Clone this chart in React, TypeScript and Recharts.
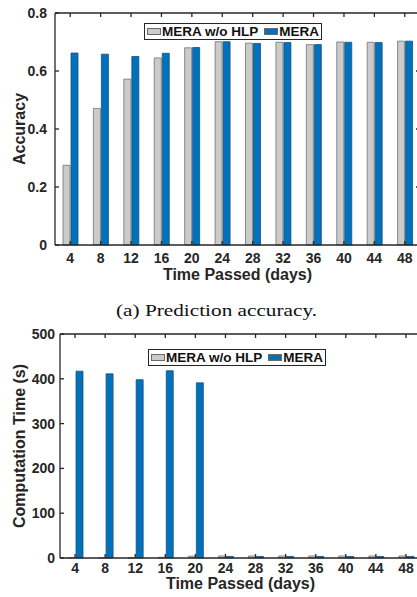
import React from 'react'
import { BarChart, Bar, XAxis, YAxis, Legend, ReferenceLine } from 'recharts'

// days on the x axis
const days = ['4', '8', '12', '16', '20', '24', '28', '32', '36', '40', '44', '48']

// (a) prediction accuracy
const accNoHlp = [0.275, 0.471, 0.572, 0.645, 0.68, 0.701, 0.696, 0.699, 0.691, 0.7, 0.699, 0.703]
const accMera = [0.662, 0.658, 0.65, 0.661, 0.681, 0.701, 0.695, 0.698, 0.691, 0.699, 0.698, 0.703]
const accTicks = [0, 0.2, 0.4, 0.6, 0.8]

// (b) computation time, seconds
const timeNoHlp = [0.5, 0.5, 0.5, 1.5, 4, 4.5, 4.5, 4.5, 4.5, 4.5, 4.5, 4.5]
const timeMera = [417, 411, 398, 418, 391, 3.5, 3.5, 3.5, 3.5, 3.5, 3.5, 3.5]
const timeTicks = [0, 100, 200, 300, 400, 500]

const FONT = '"Liberation Sans", Arial, Helvetica, sans-serif'
const AXIS = '#262626'
const GREY = '#cbcbcb'
const BLUE = '#0072bd'
const seriesOrder = ['noHlp', 'mera']

const accData = days.map((d, i) => ({ day: d, noHlp: accNoHlp[i], mera: accMera[i] }))
const timeData = days.map((d, i) => ({ day: d, noHlp: timeNoHlp[i], mera: timeMera[i] }))

const tickStyle = { fill: AXIS, fontSize: 14, fontWeight: 'bold' as const, fontFamily: FONT }
const lineStyle = { stroke: AXIS, strokeWidth: 1.3 }
const TICK_IN = -4 // MATLAB style ticks pointing into the box

// short tick hanging down from the top edge of the box
const topTick = (p: any) => {
  const y = Math.min(p.y1, p.y2)
  return <line x1={p.x1} x2={p.x1} y1={y} y2={y - TICK_IN} stroke={AXIS} strokeWidth={1.3} />
}
// short tick pointing left from the right edge of the box
const rightTick = (p: any) => {
  const x = Math.max(p.x1, p.x2)
  return <line x1={x} x2={x + TICK_IN} y1={p.y1} y2={p.y1} stroke={AXIS} strokeWidth={1.3} />
}

const yTitle = (text: string) => (props: any) => {
  const vb = props.viewBox
  const cx = vb.x + 19.5
  const cy = vb.y + vb.height / 2
  return (
    <text
      x={cx}
      y={cy}
      transform={`rotate(-90 ${cx} ${cy})`}
      textAnchor="middle"
      dominantBaseline="central"
      fill={AXIS}
      fontSize={16}
      fontWeight="bold"
      fontFamily={FONT}
    >
      {text}
    </text>
  )
}

const renderLegend = (props: any) => {
  const items = [...(props.payload || [])].sort(
    (a: any, b: any) => seriesOrder.indexOf(a.dataKey) - seriesOrder.indexOf(b.dataKey)
  )
  return (
    <div
      style={{
        display: 'inline-flex',
        alignItems: 'center',
        border: `1px solid ${AXIS}`,
        background: '#fff',
        height: 15,
        padding: '0 2px',
        fontFamily: FONT,
        fontWeight: 'bold',
        fontSize: 13.5,
        color: '#111',
        whiteSpace: 'nowrap',
      }}
    >
      {items.map((p: any, i: number) => (
        <span key={i} style={{ display: 'inline-flex', alignItems: 'center', marginRight: i === 0 ? 6 : 0 }}>
          <span style={{ width: 12, height: 5, background: p.color, border: '1px solid #6a6a6a', marginRight: 1 }} />
          {p.value}
        </span>
      ))}
    </div>
  )
}

interface PanelProps {
  data: any[]
  ticks: number[]
  yWidth: number
  height: number
  margin: { top: number; right: number; bottom: number; left: number }
  xHeight: number
  titleOffset: number
  xTickMargin: number
  yTickMargin: number
  yLabel: string
  legendPos: { left: number; top: number }
}

function Panel(props: PanelProps) {
  const { data, ticks, yWidth, height, margin, xHeight, titleOffset, xTickMargin, yTickMargin, yLabel, legendPos } = props
  const domain = [ticks[0], ticks[ticks.length - 1]]
  return (
    <BarChart width={440} height={height} data={data} margin={margin} barSize={7} barGap={1}>
      <XAxis
        dataKey="day"
        height={xHeight}
        tick={tickStyle}
        tickLine={lineStyle}
        tickSize={TICK_IN}
        tickMargin={xTickMargin - TICK_IN}
        axisLine={lineStyle}
        interval={0}
        label={{
          value: 'Time Passed (days)',
          position: 'insideBottom',
          offset: titleOffset,
          fill: AXIS,
          fontSize: 16,
          fontWeight: 'bold',
          fontFamily: FONT,
        }}
      />
      <YAxis
        type="number"
        domain={domain}
        ticks={ticks}
        width={yWidth}
        tick={tickStyle}
        tickLine={lineStyle}
        tickSize={TICK_IN}
        tickMargin={yTickMargin - TICK_IN}
        axisLine={lineStyle}
        tickFormatter={(v: number) => String(v)}
        label={{ content: yTitle(yLabel) }}
      />
      <ReferenceLine y={domain[1]} stroke={AXIS} strokeWidth={1.3} />
      {days.map((d) => (
        <ReferenceLine key={`t${d}`} x={d} shape={topTick} />
      ))}
      {ticks.slice(1, -1).map((t) => (
        <ReferenceLine key={`r${t}`} y={t} shape={rightTick} />
      ))}
      <Legend
        layout="horizontal"
        verticalAlign="middle"
        align="center"
        content={renderLegend}
        wrapperStyle={{ left: legendPos.left, top: legendPos.top, width: 'auto', height: 'auto' }}
      />
      <Bar dataKey="noHlp" name="MERA w/o HLP" fill={GREY} stroke="#727272" strokeWidth={0.8} isAnimationActive={false} />
      <Bar dataKey="mera" name="MERA" fill={BLUE} stroke="#1d4e78" strokeWidth={0.8} isAnimationActive={false} />
    </BarChart>
  )
}

export default function App() {
  return (
    <div style={{ position: 'absolute', left: 0, top: 0, width: 417, height: 597, overflow: 'hidden', background: '#fff' }}>
      <div style={{ position: 'absolute', left: 0, top: 0 }}>
        <Panel
          data={accData}
          ticks={accTicks}
          yWidth={55}
          height={290}
          margin={{ top: 13, right: 20, bottom: 5, left: 0 }}
          xHeight={40}
          titleOffset={5}
          xTickMargin={8}
          yTickMargin={8}
          yLabel="Accuracy"
          legendPos={{ left: 144, top: 21 }}
        />
      </div>
      <div
        style={{
          position: 'absolute',
          left: 8,
          top: 301,
          width: 417,
          textAlign: 'center',
          fontFamily: '"Liberation Serif", "Times New Roman", serif',
          fontSize: 17,
          lineHeight: '20px',
          color: '#111',
          transform: 'scaleX(1.25)',
        }}
      >
        (a) Prediction accuracy.
      </div>
      <div style={{ position: 'absolute', left: 0, top: 320 }}>
        <Panel
          data={timeData}
          ticks={timeTicks}
          yWidth={60}
          height={277}
          margin={{ top: 14, right: 19, bottom: 9, left: 0 }}
          xHeight={30}
          titleOffset={-1}
          xTickMargin={5}
          yTickMargin={5}
          yLabel="Computation Time (s)"
          legendPos={{ left: 148, top: 27 }}
        />
      </div>
    </div>
  )
}
